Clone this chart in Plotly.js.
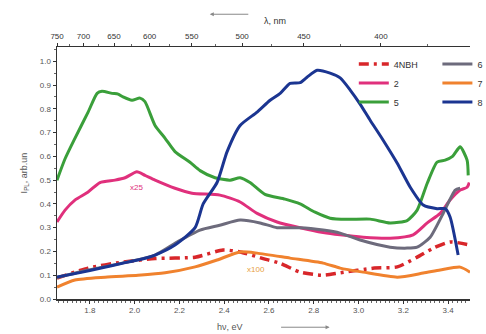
<!DOCTYPE html>
<html><head><meta charset="utf-8">
<script src="https://cdn.plot.ly/plotly-3.0.1.min.js"></script>
<style>html,body{margin:0;padding:0;background:#fff}#chart{width:486px;height:334px}</style>
</head><body><div id="chart"></div>
<script>
// Energy (eV) and intensity (arb. units) per sample
const e4NBH = [1.653,1.792,1.944,2.091,2.27,2.395,2.471,2.574,2.65,2.739,2.842,2.918,3.07,3.173,3.262,3.334,3.409,3.498];
const v4NBH = [0.088,0.13,0.155,0.17,0.176,0.206,0.198,0.17,0.15,0.113,0.10,0.11,0.13,0.135,0.176,0.214,0.24,0.227];

const e2 = [1.653,1.689,1.733,1.792,1.845,1.912,1.957,2.01,2.046,2.091,2.18,2.256,2.381,2.471,2.547,2.636,2.739,2.842,2.918,3.021,3.141,3.244,3.307,3.365,3.409,3.454,3.485,3.495];
const v2 = [0.324,0.374,0.416,0.45,0.49,0.50,0.51,0.535,0.52,0.50,0.466,0.445,0.437,0.408,0.36,0.324,0.30,0.28,0.27,0.26,0.256,0.27,0.32,0.36,0.416,0.458,0.47,0.49];

const e5 = [1.653,1.689,1.733,1.792,1.832,1.854,1.899,1.926,1.948,1.988,2.024,2.046,2.091,2.136,2.18,2.247,2.292,2.359,2.426,2.471,2.515,2.582,2.672,2.739,2.806,2.873,2.95,3.052,3.141,3.217,3.262,3.307,3.351,3.387,3.42,3.454,3.485,3.49];
const v5 = [0.50,0.59,0.676,0.786,0.865,0.874,0.865,0.862,0.85,0.836,0.845,0.83,0.73,0.676,0.62,0.575,0.54,0.51,0.50,0.51,0.49,0.44,0.42,0.40,0.365,0.34,0.335,0.336,0.32,0.33,0.374,0.487,0.576,0.584,0.60,0.64,0.584,0.52];

const e6 = [1.653,1.792,1.944,2.091,2.19,2.292,2.38,2.471,2.56,2.636,2.739,2.842,2.918,3.007,3.141,3.217,3.262,3.32,3.378,3.432,3.454];
const v6 = [0.09,0.122,0.151,0.185,0.24,0.29,0.31,0.332,0.32,0.30,0.30,0.29,0.277,0.248,0.218,0.214,0.218,0.26,0.36,0.458,0.466];

const e7 = [1.653,1.733,1.868,2.015,2.136,2.27,2.368,2.471,2.547,2.694,2.842,2.918,3.021,3.173,3.289,3.365,3.454,3.498];
const v7 = [0.05,0.08,0.092,0.10,0.11,0.135,0.164,0.198,0.193,0.172,0.151,0.13,0.113,0.092,0.109,0.122,0.134,0.113];

const e8 = [1.653,1.75,1.85,1.944,2.02,2.091,2.18,2.27,2.306,2.368,2.413,2.471,2.547,2.605,2.65,2.694,2.739,2.77,2.815,2.873,2.918,2.962,3.007,3.052,3.11,3.173,3.231,3.289,3.351,3.387,3.409,3.445];
const v8 = [0.092,0.11,0.13,0.15,0.165,0.185,0.227,0.30,0.40,0.49,0.62,0.73,0.786,0.836,0.865,0.907,0.91,0.933,0.962,0.95,0.93,0.88,0.82,0.752,0.668,0.571,0.47,0.395,0.38,0.38,0.345,0.185];

// Top axis: wavelength labels (nm)
const waveLabels = [750,700,650,600,550,500,450,400];
const waveMinor = [725,675,625,575,525,475,425,375];

const yTicks = [0,0.1,0.2,0.3,0.4,0.5,0.6,0.7,0.8,0.9,1.0];
const xTicks = [1.8,2.0,2.2,2.4,2.6,2.8,3.0,3.2,3.4];

const tickFont = {family:'Liberation Sans, Arial, sans-serif', size:8, color:'#555'};
const W = 3;

const traces = [
  {x:e4NBH, y:v4NBH, name:'4NBH', legend:'legend', line:{color:'#d8262a', width:3.5, dash:'10px,5px,3px,5px', shape:'spline', smoothing:0.6}},
  {x:e2, y:v2, name:'2', legend:'legend', line:{color:'#e0307c', width:W, shape:'spline', smoothing:0.6}},
  {x:e5, y:v5, name:'5', legend:'legend', line:{color:'#3a9f3a', width:W, shape:'spline', smoothing:0.6}},
  {x:e6, y:v6, name:'6', legend:'legend2', line:{color:'#6d6b7c', width:W, shape:'spline', smoothing:0.6}},
  {x:e7, y:v7, name:'7', legend:'legend2', line:{color:'#f0822e', width:W, shape:'spline', smoothing:0.6}},
  {x:e8, y:v8, name:'8', legend:'legend2', line:{color:'#1b3591', width:W, shape:'spline', smoothing:0.6}},
  {x:waveLabels.map(l=>1240/l), y:waveLabels.map(()=>null), xaxis:'x2', showlegend:false, hoverinfo:'skip', mode:'lines'}
].map(t=>Object.assign({type:'scatter', mode:'lines'}, t));

const layout = {
  width:486, height:334,
  margin:{l:57, r:16, t:47, b:35, autoexpand:false},
  paper_bgcolor:'#fff', plot_bgcolor:'#fff',
  font:{family:'Liberation Sans, Arial, sans-serif', color:'#444'},
  showlegend:true,
  xaxis:{range:[1.653,3.498], tickmode:'array', tickvals:xTicks, ticktext:xTicks.map(v=>v.toFixed(1)),
    ticks:'outside', ticklen:3, tickwidth:1, tickcolor:'#333', tickfont:tickFont,
    minor:{dtick:0.02, tick0:1.6, ticks:'outside', ticklen:2, tickcolor:'#666'},
    showline:true, linecolor:'#333', linewidth:1.5, showgrid:false, zeroline:false},
  xaxis2:{overlaying:'x', side:'top', anchor:'y', matches:'x', tickmode:'array',
    tickvals:waveLabels.map(l=>1240/l), ticktext:waveLabels.map(String),
    ticks:'outside', ticklen:3, tickcolor:'#333', tickfont:Object.assign({}, tickFont, {color:'#333'}),
    minor:{tickmode:'array', tickvals:waveMinor.map(l=>1240/l), ticks:'outside', ticklen:2, tickcolor:'#666'},
    showline:true, linecolor:'#333', linewidth:1.5, showgrid:false, zeroline:false},
  yaxis:{range:[0,1.06], tickmode:'array', tickvals:yTicks, ticktext:yTicks.map(v=>v.toFixed(1)),
    ticks:'outside', ticklen:3, tickcolor:'#333', tickfont:tickFont,
    minor:{dtick:0.05, ticks:'outside', ticklen:2, tickcolor:'#666'},
    showline:true, linecolor:'#333', linewidth:1.5, showgrid:false, zeroline:false,
    title:{text:'I<sub>PL</sub>, arb.un', font:{size:9, color:'#555'}, standoff:10}},
  legend:{xref:'container', x:0.728, y:0.99, xanchor:'left', yanchor:'top', bgcolor:'rgba(0,0,0,0)',
    font:{size:9, color:'#333'}, itemwidth:30, tracegroupgap:0},
  legend2:{xref:'container', x:0.90, y:0.99, xanchor:'left', yanchor:'top', bgcolor:'rgba(0,0,0,0)',
    font:{size:9, color:'#333'}, itemwidth:30, tracegroupgap:0},
  annotations:[
    {xref:'paper', yref:'paper', x:0.497, y:1.13, text:'λ, nm', showarrow:false, xanchor:'left', font:{size:9, color:'#333'}},
    {xref:'paper', yref:'paper', x:0.37, y:1.13, ax:40, ay:0, text:'', showarrow:true, arrowhead:2, arrowsize:0.8, arrowwidth:1, arrowcolor:'#888'},
    {xref:'paper', yref:'paper', x:0.455, y:-0.112, yanchor:'middle', text:'hν, eV', showarrow:false, xanchor:'right', font:{size:9, color:'#555'}},
    {xref:'paper', yref:'paper', x:0.66, y:-0.112, ax:-50, ay:0, text:'', showarrow:true, arrowhead:2, arrowsize:0.8, arrowwidth:1, arrowcolor:'#888'},
    {xref:'x', yref:'y', x:2.01, y:0.47, text:'x25', showarrow:false, font:{size:8, color:'#e0307c'}},
    {xref:'x', yref:'y', x:2.54, y:0.125, text:'x100', showarrow:false, font:{size:8, color:'#e8a040'}}
  ]
};

Plotly.newPlot('chart', traces, layout, {staticPlot:true, displayModeBar:false});
</script></body></html>
